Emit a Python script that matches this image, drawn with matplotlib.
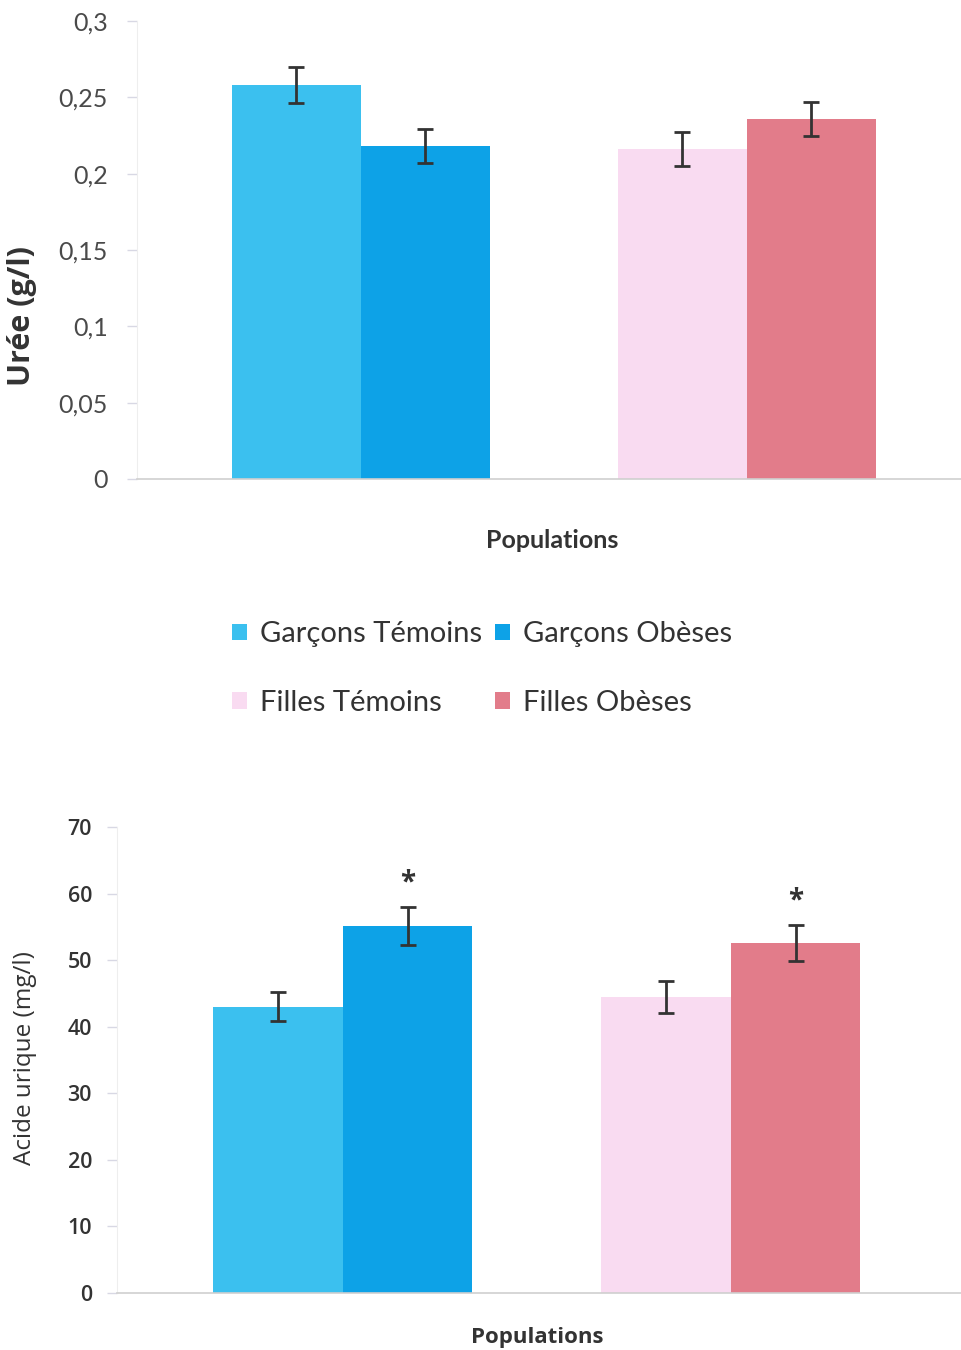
import matplotlib
matplotlib.use('Agg')
import matplotlib.pyplot as plt
import matplotlib.patches as mpatches
import numpy as np

# Groups and series
populations = ['Garçons', 'Filles']
series_labels = ['Garçons Témoins', 'Garçons Obèses', 'Filles Témoins', 'Filles Obèses']
series_colors = ['#3bc0ef', '#0da2e7', '#f9dbf1', '#e27c8a']

# Urée (g/l): témoins / obèses for each group
uree_temoins = [0.258, 0.216]
uree_obeses = [0.218, 0.236]
uree_temoins_err = [0.012, 0.011]
uree_obeses_err = [0.011, 0.011]

# Acide urique (mg/l)
acide_temoins = [43.0, 44.5]
acide_obeses = [55.1, 52.6]
acide_temoins_err = [2.2, 2.4]
acide_obeses_err = [2.9, 2.7]
acide_signif = [True, True]  # obèses vs témoins

W, H = 961, 1350
fig = plt.figure(figsize=(W / 100, H / 100), dpi=100)
fig.patch.set_facecolor('white')

narrow = ['Lato', 'DejaVu Sans']
sans = ['Open Sans', 'DejaVu Sans']


def px_axes(left, top, right, bottom):
    return fig.add_axes([left / W, 1 - bottom / H, (right - left) / W, (bottom - top) / H])


def bar_panel(ax, temoins, obeses, t_err, o_err, width=0.334):
    x = np.arange(len(populations))
    cols_t = [series_colors[0], series_colors[2]]
    cols_o = [series_colors[1], series_colors[3]]
    ax.bar(x - width / 2, temoins, width, color=cols_t, zorder=2)
    ax.bar(x + width / 2, obeses, width, color=cols_o, zorder=2)
    ax.errorbar(x - width / 2, temoins, yerr=t_err, fmt='none', ecolor='#333333',
                elinewidth=2, capsize=6, capthick=2, zorder=3)
    ax.errorbar(x + width / 2, obeses, yerr=o_err, fmt='none', ecolor='#333333',
                elinewidth=2, capsize=6, capthick=2, zorder=3)
    for s in ['top', 'right']:
        ax.spines[s].set_visible(False)
    ax.spines['left'].set_color('#eeeeee')
    ax.spines['bottom'].set_color('#cfcfcf')
    ax.spines['bottom'].set_linewidth(1.2)
    ax.set_xticks([])
    ax.tick_params(axis='y', length=7, color='#d8d8e4', width=1)
    return x


# Top panel: urée
ax1 = px_axes(137, 21, 961, 479)
bar_panel(ax1, uree_temoins, uree_obeses, uree_temoins_err, uree_obeses_err)
ax1.set_xlim(-0.58, 1.555)
ax1.set_ylim(0, 0.3)
ax1.set_yticks([0, 0.05, 0.1, 0.15, 0.2, 0.25, 0.3])
ax1.set_yticklabels(['0', '0,05', '0,1', '0,15', '0,2', '0,25', '0,3'],
                    family=narrow, fontsize=18, color='#4a4a4a')
ax1.tick_params(axis='y', pad=14)
fig.text(22 / W, 1 - 316 / H, 'Urée (g/l)', rotation=90, ha='center', va='center',
         family=sans, fontsize=22, fontweight='bold', color='#333333')
fig.text(552 / W, 1 - 540 / H, 'Populations', ha='center', va='center',
         family=narrow, fontsize=18, fontweight='bold', color='#333333')

# Legend shared by both panels
handles = [mpatches.Patch(facecolor=c, edgecolor='none') for c in series_colors]
order = [0, 2, 1, 3]
fig.legend([handles[i] for i in order], [series_labels[i] for i in order],
           ncol=2, loc='upper left', bbox_to_anchor=(206 / W, 1 - 595 / H),
           frameon=False, prop={'family': narrow, 'size': 21},
           handlelength=0.5, handleheight=0.5, handletextpad=0.45,
           columnspacing=0.45, labelspacing=1.45, labelcolor='#333333')

# Bottom panel: acide urique
ax2 = px_axes(117, 827, 961, 1293)
x2 = bar_panel(ax2, acide_temoins, acide_obeses, acide_temoins_err, acide_obeses_err)
ax2.set_xlim(-0.582, 1.593)
ax2.set_ylim(0, 70)
ax2.set_yticks(range(0, 71, 10))
ax2.tick_params(axis='y', pad=11, labelsize=15.5, labelcolor='#333333')
for lbl in ax2.get_yticklabels():
    lbl.set_family(sans)
    lbl.set_fontweight('semibold')
for xi, v, e, sig in zip(x2, acide_obeses, acide_obeses_err, acide_signif):
    if sig:
        ax2.annotate('*', xy=(xi + 0.334 / 2, v + e), xytext=(0, 7),
                     textcoords='offset points', ha='center', va='bottom',
                     fontsize=20, fontweight='bold', color='#333333', family=sans)
fig.text(25 / W, 1 - 1058 / H, 'Acide urique (mg/l)', rotation=90, ha='center', va='center',
         family=sans, fontsize=17.5, color='#333333')
fig.text(537 / W, 1 - 1337 / H, 'Populations', ha='center', va='center',
         family=sans, fontsize=16, fontweight='bold', color='#333333')

fig.savefig('out.png', dpi=100, facecolor='white')
